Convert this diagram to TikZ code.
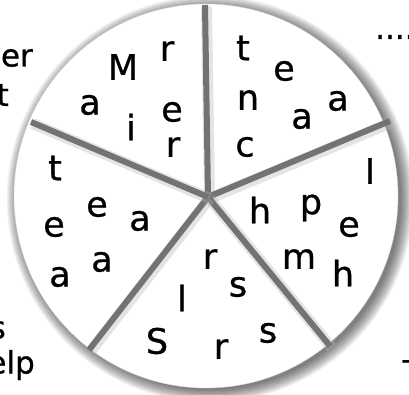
\documentclass[tikz,border=0pt]{standalone}
\usepackage{fontspec}
\setmainfont{DejaVu Sans}
\newfontfamily\letterfont[FakeBold=0.8]{DejaVu Sans}
\usetikzlibrary{calc}

\tikzset{
  letter/.style={font=\letterfont\fontsize{35}{35}\selectfont, inner sep=0pt, anchor=center},
  edgetext/.style={font=\letterfont\fontsize{31}{31}\selectfont, inner sep=0pt},
  spoke/.style={line width=6pt, draw=black!55},
  spokeglow/.style={line width=11pt, draw=black!30, opacity=0.35},
}

\begin{document}
\begin{tikzpicture}[x=1pt, y=1pt]
\useasboundingbox (0,0) rectangle (409,394);
\clip (0,0) rectangle (409,394);
% Soft shadow round the disc.
\foreach \i in {1,...,12}{
    \fill[black, opacity=0.055] (210,195) circle ({190+\i*1.1});
}
\fill[white, draw=black!15] (206,198) circle (192);
% Hub and the five spoke ends.
\coordinate (hub) at (208,197);
\coordinate (top) at (205,389);
\coordinate (ur) at (390,273);
\coordinate (lr) at (330,48);
\coordinate (ll) at (89,44);
\coordinate (ul) at (31,272);
\foreach \nm in {top,ur,lr,ll,ul}{
    \draw[spokeglow] ([shift={(1.5,-1.5)}]hub) -- ([shift={(1.5,-1.5)}]\nm);
    \draw[spoke] (hub) -- (\nm);
}
% Letters, one sector at a time.
\foreach \nm/\x/\y/\lab in {ulM/123/327/M, ulr/167/343/r, ula/90/289/a, ule/172/282/e, uli/131/267/i, ulrr/173/247/r}{
    \node[letter] (\nm) at (\x,\y) {\lab};
}
\foreach \nm/\x/\y/\lab in {urt/243/346/t, ure/284/323/e, urn/248/294/n, ura/338/293/a, uraa/302/275/a, urc/245/247/c}{
    \node[letter] (\nm) at (\x,\y) {\lab};
}
\foreach \nm/\x/\y/\lab in {rI/370/223/I, rh/260/184/h, rp/311/186/p, re/349/167/e, rm/299/135/m, rhh/343/121/h}{
    \node[letter] (\nm) at (\x,\y) {\lab};
}
\foreach \nm/\x/\y/\lab in {br/210/135/r, bs/238/107/s, bl/182/96/l, bS/157/53/S, brr/221/45/r, bss/268/61/s}{
    \node[letter] (\nm) at (\x,\y) {\lab};
}
\foreach \nm/\x/\y/\lab in {lt/55/226/t, le/97/187/e, la/140/173/a, lee/54/167/e, laa/102/132/a, laaa/60/117/a}{
    \node[letter] (\nm) at (\x,\y) {\lab};
}
% Cut-off words at the edges.
\node[edgetext, anchor=east] (wer) at (33,336) {er};
\node[edgetext, anchor=east] (wt) at (9,299) {t};
\node[edgetext, anchor=east] (ws) at (6,64) {s};
\node[edgetext, anchor=east] (welp) at (35,29) {elp};
\node[edgetext, anchor=west] (wdots) at (375,357) {.....};
\node[edgetext, anchor=west] (wdash) at (401,29) {-};
\end{tikzpicture}
\end{document}
